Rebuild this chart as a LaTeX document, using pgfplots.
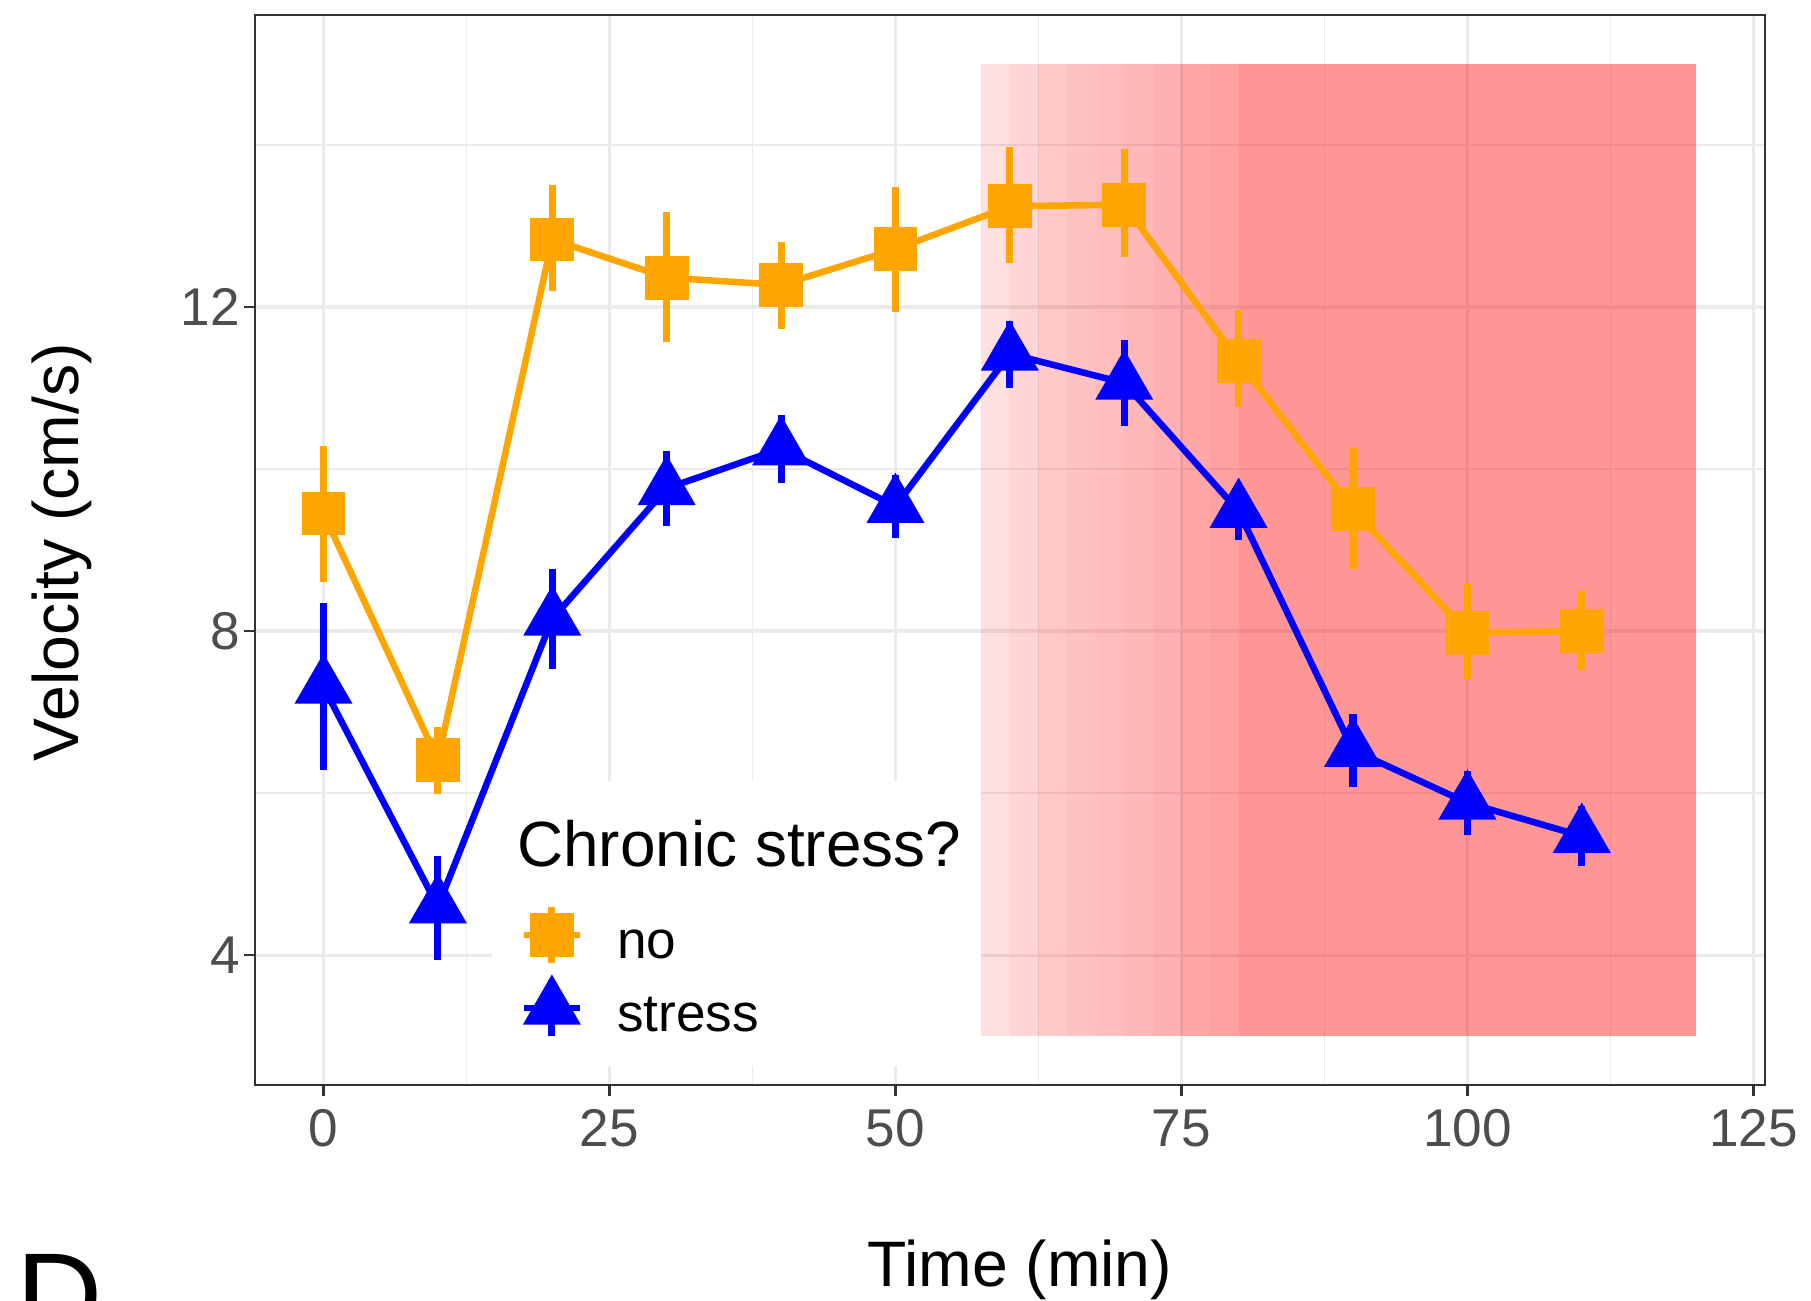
\documentclass[border=0pt]{standalone}
\usepackage{pgfplots}
\pgfplotsset{compat=1.18}
\usepackage{pgfplotstable}
\usepackage{fontspec}
\setmainfont{Liberation Sans}
\definecolor{cOrange}{HTML}{FFA500}
\definecolor{cBlue}{HTML}{0000FF}
\definecolor{cGrid}{HTML}{EBEBEB}
\definecolor{cFrame}{HTML}{333333}
\definecolor{cTick}{HTML}{4D4D4D}
\definecolor{cShade}{HTML}{FF0000}

\pgfplotstableread{
x   y     ep    em
0   9.45  0.83  0.84
10  6.41  0.41  0.42
20  12.83 0.67  0.64
30  12.36 0.81  0.80
40  12.27 0.53  0.54
50  12.71 0.77  0.77
60  13.24 0.73  0.70
70  13.26 0.69  0.65
80  11.33 0.63  0.57
90  9.50  0.76  0.74
100 7.98  0.60  0.59
110 8.00  0.49  0.48
}\nostress

\pgfplotstableread{
x   y     ep    em
0   7.31  1.04  1.03
10  4.60  0.62  0.66
20  8.15  0.61  0.62
30  9.76  0.46  0.47
40  10.25 0.41  0.42
50  9.54  0.38  0.39
60  11.42 0.41  0.42
70  11.06 0.53  0.53
80  9.48  0.35  0.36
90  6.53  0.45  0.45
100 5.88  0.39  0.40
110 5.47  0.37  0.37
}\stress

\begin{document}
\begin{tikzpicture}
\begin{axis}[
  scale only axis, width=392.2pt, height=277.9pt,
  xmin=-6, xmax=126, ymin=2.4, ymax=15.6,
  xtick={0,25,50,75,100,125}, ytick={4,8,12},
  minor xtick={12.5,37.5,62.5,87.5,112.5}, minor ytick={6,10,14},
  grid=both,
  major grid style={line width=0.9pt, draw=cGrid},
  minor grid style={line width=0.45pt, draw=cGrid},
  axis line style={draw=cFrame, line width=0.6pt},
  tick pos=left, tick align=outside,
  major tick length=2.8pt, minor tick length=0pt,
  tick style={draw=cFrame, line width=0.6pt},
  tick label style={font=\fontsize{13.8}{16}\selectfont, text=cTick, inner sep=0pt},
  /pgf/number format/assume math mode=true,
  xticklabel style={anchor=base, yshift=-13.3pt},
  yticklabel style={anchor=east, xshift=-0.9pt},
  xlabel={Time (min)}, ylabel={Velocity (cm/s)},
  label style={font=\fontsize{16.7}{20}\selectfont, text=black},
  xlabel style={at={(axis description cs:0.5066,-0.188)}, anchor=base, inner sep=0pt},
  ylabel style={at={(axis description cs:-0.1170,0.498)}, anchor=base, inner sep=0pt},
  legend cell align=left,
  legend style={at={(axis cs:17.24,3.80)}, anchor=west, draw=none, fill=none,
    inner sep=0pt, outer sep=0pt, row sep=2.55pt,
    font=\fontsize{13.8}{16}\selectfont,
    nodes={inner sep=0pt, text height=0.85em, text depth=0pt, yshift=-1.8pt},
    /tikz/every odd column/.append style={column sep=8.9pt}},
]
% gradient shading
\addplot[draw=none, fill=cShade, fill opacity=0.12, forget plot] coordinates {(57.5,3) (60,3) (60,15) (57.5,15)} --cycle;
\addplot[draw=none, fill=cShade, fill opacity=0.165, forget plot] coordinates {(60,3) (62.5,3) (62.5,15) (60,15)} --cycle;
\addplot[draw=none, fill=cShade, fill opacity=0.21, forget plot] coordinates {(62.5,3) (65,3) (65,15) (62.5,15)} --cycle;
\addplot[draw=none, fill=cShade, fill opacity=0.245, forget plot] coordinates {(65,3) (67.5,3) (67.5,15) (65,15)} --cycle;
\addplot[draw=none, fill=cShade, fill opacity=0.26, forget plot] coordinates {(67.5,3) (70,3) (70,15) (67.5,15)} --cycle;
\addplot[draw=none, fill=cShade, fill opacity=0.28, forget plot] coordinates {(70,3) (72.5,3) (72.5,15) (70,15)} --cycle;
\addplot[draw=none, fill=cShade, fill opacity=0.305, forget plot] coordinates {(72.5,3) (75,3) (75,15) (72.5,15)} --cycle;
\addplot[draw=none, fill=cShade, fill opacity=0.345, forget plot] coordinates {(75,3) (77.5,3) (77.5,15) (75,15)} --cycle;
\addplot[draw=none, fill=cShade, fill opacity=0.37, forget plot] coordinates {(77.5,3) (80,3) (80,15) (77.5,15)} --cycle;
\addplot[draw=none, fill=cShade, fill opacity=0.41, forget plot] coordinates {(80,3) (120,3) (120,15) (80,15)} --cycle;
% legend background and title
\fill[white] (axis cs:14.7,2.63) rectangle (axis cs:57.5,6.15);
\node[anchor=base west, inner sep=0pt, font=\fontsize{16.6}{20}\selectfont] at (axis cs:16.87,5.09) {Chronic stress?};
% data
\addplot[cOrange, line width=1.7pt, mark=square*, mark size=4.85pt,
  mark options={draw=none, fill=cOrange},
  legend image code/.code={
    \draw[cOrange, line width=1.6pt] (-7.3pt,0pt) -- (7.3pt,0pt);
    \draw[cOrange, line width=1.8pt] (0pt,-7.3pt) -- (0pt,7.3pt);
    \draw[cOrange, mark=square*, mark size=4.8pt, mark options={draw=none, fill=cOrange}] plot coordinates {(0pt,0pt)};
  },
  error bars/.cd, y dir=both, y explicit, error mark=none,
  error bar style={line width=1.85pt, cOrange}]
  table[x=x, y=y, y error plus=ep, y error minus=em] {\nostress};
\addlegendentry{no}
\addplot[cBlue, line width=1.7pt, mark=triangle*, mark size=7pt,
  mark options={draw=none, fill=cBlue},
  legend image code/.code={
    \draw[cBlue, line width=1.6pt] (-7.3pt,0pt) -- (7.3pt,0pt);
    \draw[cBlue, line width=1.8pt] (0pt,-7.3pt) -- (0pt,7.3pt);
    \draw[cBlue, mark=triangle*, mark size=7pt, mark options={draw=none, fill=cBlue}] plot coordinates {(0pt,0pt)};
  },
  error bars/.cd, y dir=both, y explicit, error mark=none,
  error bar style={line width=1.85pt, cBlue}]
  table[x=x, y=y, y error plus=ep, y error minus=em] {\stress};
\addlegendentry{stress}
\end{axis}
\node[anchor=north west, inner sep=0pt, font=\fontsize{31}{36}\selectfont] at ([shift={(-62pt,-43.7pt)}]current axis.south west) {D};
\pgfresetboundingbox
\path[use as bounding box] ([shift={(-66.2pt,-56pt)}]current axis.south west) rectangle ([shift={(12pt,3.9pt)}]current axis.north east);
\end{tikzpicture}
\end{document}
